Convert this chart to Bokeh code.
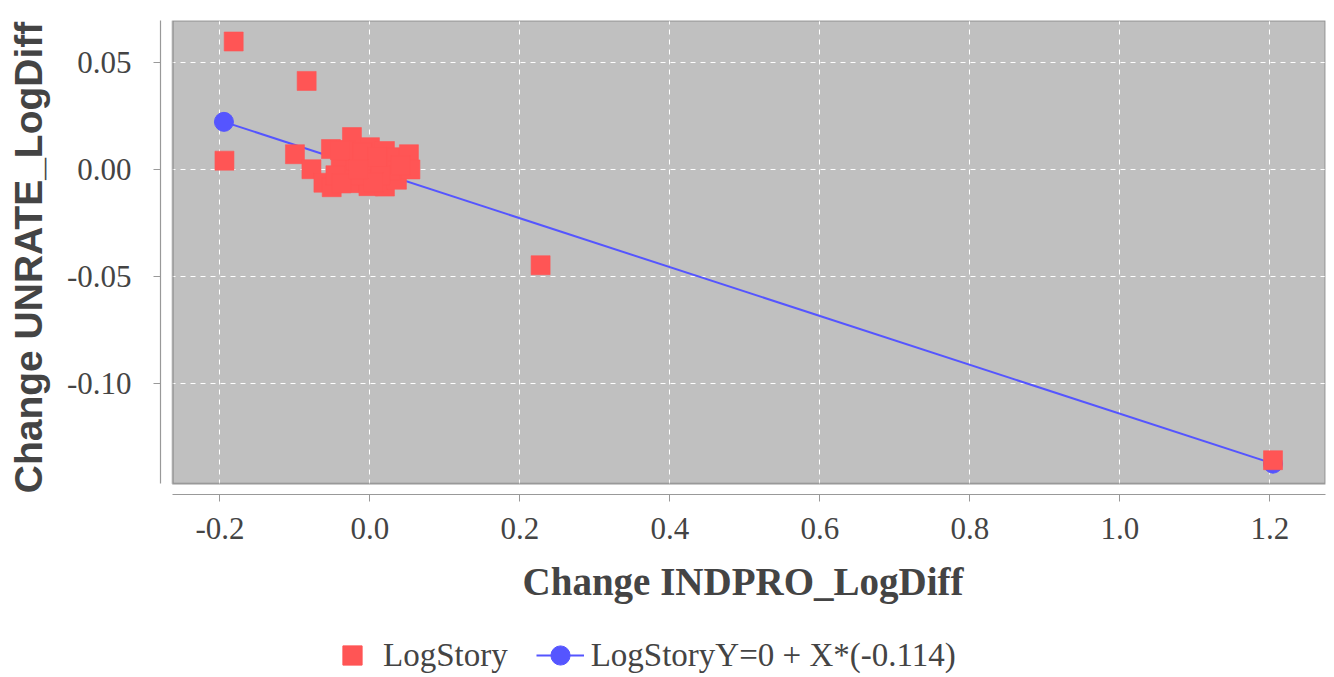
from bokeh.plotting import figure
from bokeh.layouts import column
from bokeh.models import Range1d, FixedTicker, BoxAnnotation, Legend, LegendItem
from bokeh.embed import file_html
from bokeh.resources import INLINE

# ---- data ----
story_x = [-0.1817, -0.0844, -0.194, -0.100, 0.2276, 1.2043,
           -0.078, -0.062, -0.052, -0.051, -0.024, -0.027, 0.0, -0.002,
           0.020, 0.020, 0.030, 0.036, 0.052, 0.054, -0.039, -0.019,
           0.008, -0.012, 0.028, -0.032, 0.001, 0.014, 0.041, -0.046,
           -0.040, -0.038, -0.010, 0.010, 0.005, -0.015]
story_y = [0.0597, 0.0413, 0.0041, 0.0071, -0.0447, -0.1357,
           0.0001, -0.0062, 0.0095, -0.0083, 0.0151, -0.0064, 0.0104, -0.0078,
           -0.0080, 0.0086, 0.0057, -0.0048, 0.0071, 0.0000, 0.0020, 0.0043,
           -0.0003, -0.0027, -0.0003, 0.0090, 0.0040, -0.0027, 0.0020, -0.0027,
           0.0090, -0.0065, 0.0080, 0.0060, -0.0060, 0.0000]
fit_x = [-0.1947, 1.2043]
fit_y = [0.0222, -0.1373]

x_ticks = [-0.2, 0.0, 0.2, 0.4, 0.6, 0.8, 1.0, 1.2]
x_tick_labels = ["-0.2", "0.0", "0.2", "0.4", "0.6", "0.8", "1.0", "1.2"]
y_ticks = [-0.10, -0.05, 0.0, 0.05]
y_tick_labels = ["-0.10", "-0.05", "0.00", "0.05"]

series_names = ["LogStory", "LogStoryY=0 + X*(-0.114)"]
x_title = "Change INDPRO_LogDiff"
y_title = "Change UNRATE_LogDiff"

# ---- style ----
RED = "#FF5555"
BLUE = "#5555FF"
BG = "#C0C0C0"
TXT = "#444444"
SERIF = "Liberation Serif"
SANS = "Liberation Sans"

p = figure(width=1334, height=607, output_backend="svg", toolbar_location=None,
           x_range=Range1d(-0.2793, 1.2743), y_range=Range1d(-0.1517, 0.0695),
           min_border_left=160, min_border_right=9, min_border_top=20,
           min_border_bottom=113)
p.background_fill_color = "white"
p.border_fill_color = "white"
p.outline_line_color = None

# gray plot box (offset from the axes) and its border
bg_box = BoxAnnotation(left=-0.2631, right=1.2743, bottom=-0.1467, top=0.0695,
                       fill_color=BG, fill_alpha=1.0, line_color=None, level="image")
p.add_layout(bg_box)
border_box = BoxAnnotation(left=-0.2631, right=1.2743, bottom=-0.1467, top=0.0695,
                           fill_alpha=0.0, fill_color=None, line_color="#1a1a1a",
                           line_width=2, level="underlay")
p.add_layout(border_box)

# grid
for g in (p.xgrid, p.ygrid):
    g.grid_line_color = "white"
    g.grid_line_dash = "5 5"
    g.grid_line_width = 1
p.xgrid.ticker = FixedTicker(ticks=x_ticks)
p.ygrid.ticker = FixedTicker(ticks=y_ticks)

# axes
p.xaxis.ticker = FixedTicker(ticks=x_ticks)
p.yaxis.ticker = FixedTicker(ticks=y_ticks)
p.xaxis.major_label_overrides = dict(zip(x_ticks, x_tick_labels))
p.yaxis.major_label_overrides = dict(zip(y_ticks, y_tick_labels))
p.xaxis.bounds = (-0.2631, 1.2743)
p.yaxis.bounds = (-0.1467, 0.0695)
for ax in (p.xaxis, p.yaxis):
    ax.axis_line_color = "#999999"
    ax.axis_line_width = 1.2
    ax.major_tick_line_color = "#999999"
    ax.major_tick_in = 0
    ax.major_tick_out = 7
    ax.minor_tick_line_color = None
    ax.major_label_text_font = SERIF
    ax.major_label_text_font_size = "31px"
    ax.major_label_text_color = TXT
    ax.axis_label_text_color = TXT
    ax.axis_label_text_font_style = "bold"
    ax.axis_label_text_font_size = "39px"
p.xaxis.axis_label = x_title
p.yaxis.axis_label = y_title
p.xaxis.axis_label_text_font = SERIF
p.yaxis.axis_label_text_font = SANS
p.xaxis.major_label_standoff = 16
p.yaxis.major_label_standoff = 22
p.xaxis.axis_label_standoff = 18
p.yaxis.axis_label_standoff = 14

# glyphs
fit_line = p.line(fit_x, fit_y, line_color=BLUE, line_width=2)
fit_dots = p.scatter(fit_x, fit_y, marker="circle", size=19, fill_color=BLUE,
                     line_color=BLUE)
story = p.scatter(story_x, story_y, marker="square", size=19, fill_color=RED,
                  line_color=RED, line_alpha=0.6)

# ---- legend strip underneath (its own frame, aligned with the plot's) ----
q = figure(width=1334, height=70, output_backend="svg", toolbar_location=None,
           x_range=Range1d(10, 11), y_range=Range1d(10, 11),
           min_border_left=0, min_border_right=0, min_border_top=0,
           min_border_bottom=0)
q.axis.visible = False
q.grid.visible = False
q.outline_line_color = None
q.background_fill_color = "white"
q.border_fill_color = "white"
# proxies for the legend glyphs (their data lie outside this strip's ranges)
lg_story = q.scatter(story_x, story_y, marker="square", size=19, fill_color=RED,
                     line_color=RED)
lg_line = q.line(fit_x, fit_y, line_color=BLUE, line_width=2)
lg_dots = q.scatter(fit_x, fit_y, marker="circle", size=19, fill_color=BLUE,
                    line_color=BLUE)

legend = Legend(items=[LegendItem(label=series_names[0], renderers=[lg_story]),
                       LegendItem(label=series_names[1], renderers=[lg_line, lg_dots])],
                orientation="horizontal", location=(168, -2),
                padding=0, margin=0, border_line_color=None,
                background_fill_alpha=0.0, glyph_width=48, glyph_height=48,
                label_standoff=7, spacing=28,
                label_text_font=SERIF, label_text_font_size="33px",
                label_text_color=TXT)
q.add_layout(legend)

layout = column(p, q, spacing=0)
open("out.html", "w").write(file_html(layout, INLINE))
